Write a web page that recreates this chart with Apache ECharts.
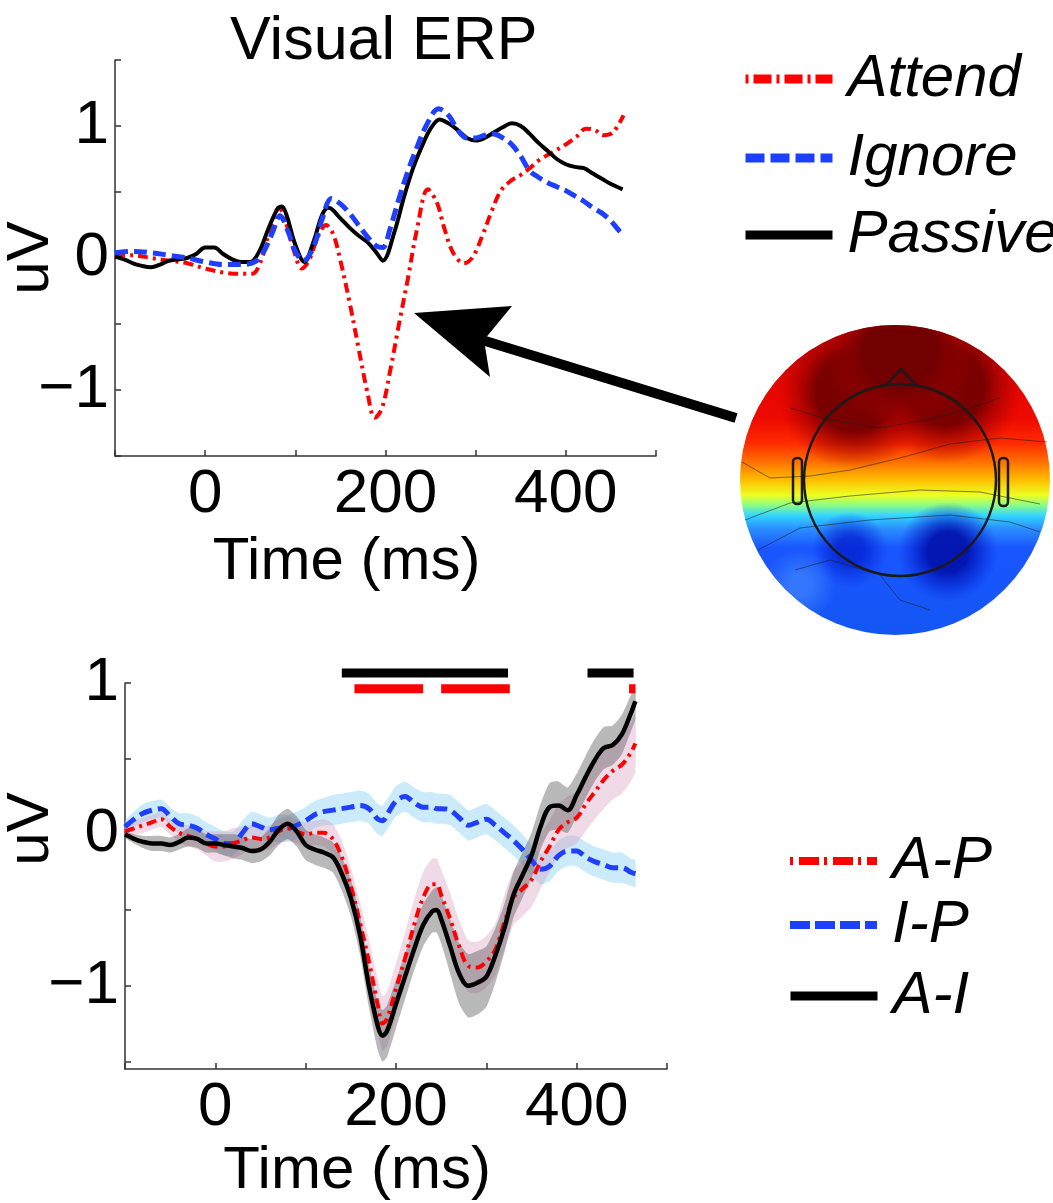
<!DOCTYPE html>
<html>
<head>
<meta charset="utf-8">
<title>Visual ERP</title>
<script src="https://cdn.jsdelivr.net/npm/echarts@6/dist/echarts.min.js"></script>
<style>
  html, body { margin: 0; padding: 0; background: #fff; }
  #chart { width: 1053px; height: 1203px; }
</style>
</head>
<body>
<div id="chart"></div>
<script>
// ---- top panel: grand average ERPs (uV), time in ms ----
var tAttend = [-100,-80,-60,-40,-20,0,20,40,52,62,72,82,90,100,107,115,125,134,142,150,160,170,180,188,196,205,215,225,235,247,257,265,275,287,297,308,318,328,340,350,360,370,385,400,412,422,432,442,452,464];
var vAttend = [0.02,0.02,0.00,-0.02,-0.04,-0.08,-0.11,-0.12,-0.12,-0.02,0.22,0.38,0.26,0.02,-0.08,-0.02,0.16,0.25,0.18,-0.02,-0.33,-0.68,-1.02,-1.21,-1.14,-0.86,-0.50,-0.15,0.22,0.52,0.42,0.23,0.04,-0.04,0.01,0.18,0.36,0.51,0.59,0.63,0.68,0.74,0.80,0.86,0.92,0.98,0.97,0.93,0.95,1.08];

var tIgnore = [-100,-80,-60,-40,-20,0,20,40,55,65,75,83,92,100,109,120,130,140,150,160,170,180,190,197,205,215,225,235,245,259,270,280,290,300,310,320,330,340,350,360,370,380,390,400,410,420,430,440,450,460,465];
var vIgnore = [0.04,0.05,0.04,0.02,0.00,-0.03,-0.05,-0.05,-0.03,0.05,0.20,0.32,0.20,0.05,-0.02,0.08,0.30,0.45,0.41,0.34,0.25,0.16,0.09,0.08,0.22,0.45,0.66,0.84,1.00,1.13,1.08,0.97,0.91,0.91,0.93,0.94,0.91,0.86,0.77,0.66,0.61,0.57,0.54,0.51,0.47,0.43,0.38,0.34,0.28,0.20,0.17];

var tPassive = [-100,-90,-80,-70,-60,-50,-40,-30,-20,-10,0,10,20,30,40,50,60,70,80,85,90,100,110,120,130,137,150,160,170,180,190,197,210,220,230,240,250,260,270,280,290,300,310,320,330,340,350,360,370,380,390,400,410,420,430,440,450,463];
var vPassive = [0.01,-0.01,-0.04,-0.06,-0.07,-0.05,-0.02,-0.01,0.00,0.03,0.08,0.08,0.03,-0.01,-0.03,-0.03,0.05,0.22,0.37,0.39,0.33,0.10,-0.03,0.12,0.33,0.38,0.30,0.23,0.17,0.12,0.04,-0.02,0.20,0.45,0.67,0.84,0.98,1.05,1.02,0.97,0.91,0.89,0.91,0.95,0.99,1.02,1.00,0.94,0.87,0.81,0.75,0.71,0.69,0.68,0.64,0.60,0.56,0.52];

// ---- bottom panel: difference waves with standard error ----
var tDiff = [-100,-90,-80,-70,-60,-50,-40,-30,-20,-10,0,10,20,30,40,50,60,70,80,90,100,110,120,130,140,150,160,170,180,185,190,200,210,220,230,240,245,250,260,270,280,290,300,310,320,330,340,350,360,370,380,390,400,410,420,430,440,450,460,465];
var vAP = [0.02,0.04,0.06,0.08,0.10,0.05,0.01,-0.01,-0.03,-0.06,-0.08,-0.08,-0.06,-0.04,-0.02,-0.03,-0.02,0.02,0.04,0.02,0.00,0.01,0.01,-0.03,-0.15,-0.34,-0.58,-0.84,-1.13,-1.25,-1.22,-1.02,-0.82,-0.60,-0.42,-0.33,-0.33,-0.40,-0.56,-0.74,-0.87,-0.88,-0.84,-0.76,-0.58,-0.42,-0.36,-0.30,-0.18,-0.08,0.03,0.08,0.11,0.20,0.28,0.36,0.42,0.46,0.54,0.60];
var vIP = [0.05,0.10,0.14,0.16,0.17,0.12,0.07,0.06,0.04,0.00,-0.03,-0.06,-0.06,0.01,0.07,0.05,0.03,0.04,0.04,0.06,0.09,0.13,0.15,0.16,0.17,0.18,0.19,0.17,0.10,0.09,0.13,0.22,0.25,0.21,0.18,0.18,0.17,0.17,0.16,0.11,0.06,0.08,0.10,0.06,0.01,-0.04,-0.10,-0.17,-0.23,-0.21,-0.14,-0.11,-0.11,-0.15,-0.18,-0.20,-0.22,-0.22,-0.25,-0.26];
var vAI = [0.00,-0.03,-0.05,-0.06,-0.06,-0.07,-0.05,-0.02,-0.03,-0.06,-0.06,-0.07,-0.08,-0.09,-0.11,-0.10,-0.05,0.03,0.07,0.02,-0.07,-0.10,-0.12,-0.15,-0.26,-0.42,-0.66,-1.00,-1.27,-1.33,-1.30,-1.12,-0.94,-0.76,-0.60,-0.51,-0.50,-0.56,-0.74,-0.92,-1.00,-0.98,-0.94,-0.80,-0.62,-0.40,-0.27,-0.14,0.05,0.18,0.19,0.16,0.26,0.38,0.49,0.57,0.59,0.66,0.80,0.88];
var seAP = [0.03,0.05,0.05,0.05,0.05,0.05,0.06,0.07,0.07,0.08,0.10,0.10,0.10,0.09,0.08,0.08,0.08,0.08,0.08,0.08,0.08,0.08,0.09,0.10,0.11,0.12,0.14,0.15,0.17,0.18,0.18,0.17,0.17,0.17,0.17,0.17,0.17,0.17,0.17,0.17,0.17,0.17,0.17,0.17,0.18,0.18,0.18,0.18,0.18,0.17,0.17,0.17,0.17,0.18,0.18,0.19,0.19,0.19,0.19,0.19];
var seIP = [0.04,0.05,0.06,0.06,0.06,0.06,0.07,0.08,0.08,0.08,0.08,0.08,0.08,0.08,0.08,0.08,0.08,0.09,0.09,0.09,0.09,0.09,0.09,0.10,0.10,0.10,0.10,0.10,0.10,0.10,0.10,0.10,0.10,0.10,0.10,0.10,0.10,0.10,0.10,0.10,0.10,0.10,0.10,0.10,0.10,0.10,0.10,0.10,0.10,0.10,0.10,0.10,0.10,0.10,0.10,0.10,0.10,0.10,0.09,0.09];
var seAI = [0.02,0.03,0.04,0.05,0.05,0.05,0.05,0.06,0.06,0.06,0.06,0.07,0.08,0.08,0.08,0.08,0.09,0.10,0.10,0.10,0.10,0.10,0.10,0.10,0.11,0.12,0.13,0.14,0.16,0.17,0.17,0.16,0.15,0.14,0.14,0.14,0.15,0.16,0.18,0.20,0.21,0.21,0.20,0.18,0.16,0.15,0.15,0.15,0.15,0.16,0.16,0.15,0.14,0.14,0.14,0.14,0.13,0.13,0.12,0.12];

// significance bars above the bottom panel: [start, end] in ms
var sigAI = [[140, 324], [412, 463]];
var sigAP = [[154, 230], [250, 326], [458, 465]];
var sigAILevel = 1.066;
var sigAPLevel = 0.962;

var FONT = '"Liberation Sans", Arial, Helvetica, sans-serif';
var RED = '#ff0000', BLUE = '#1f3fff', BLACK = '#000000';

function pairs(t, v) {
    return t.map(function (x, i) { return [x, v[i]]; });
}
function minusSign(v) {
    return String(v).replace('-', '\u2212');
}

function erpLine(name, t, v, color, dash, width, idx) {
    return {
        name: name, type: 'line', xAxisIndex: idx, yAxisIndex: idx,
        data: pairs(t, v), smooth: 0.35, symbol: 'none', silent: true,
        lineStyle: { color: color, type: dash, width: width },
        itemStyle: { color: color }
    };
}

// shaded standard error band drawn as one polygon through the axes
function seBand(t, mean, se, fill) {
    return {
        type: 'custom', xAxisIndex: 1, yAxisIndex: 1, silent: true,
        data: t.map(function (x, i) { return [x, mean[i] - se[i], mean[i] + se[i]]; }),
        encode: { x: 0, y: [1, 2] },
        renderItem: function (params, api) {
            if (params.dataIndex !== 0) return null;
            var up = [], lo = [];
            for (var i = 0; i < t.length; i++) {
                up.push(api.coord([t[i], mean[i] + se[i]]));
                lo.unshift(api.coord([t[i], mean[i] - se[i]]));
            }
            return { type: 'polygon', shape: { points: up.concat(lo), smooth: 0.2 }, style: { fill: fill } };
        }
    };
}

function sigBars(segs, level, color) {
    return segs.map(function (s) {
        return {
            type: 'line', xAxisIndex: 1, yAxisIndex: 1, silent: true, clip: false,
            symbol: 'none', data: [[s[0], level], [s[1], level]],
            lineStyle: { color: color, width: 9, cap: 'butt' }, z: 5
        };
    });
}

function legendItem(name, left, top, dash, width) {
    return {
        data: [name], left: left, top: top, orient: 'vertical',
        itemWidth: 87, itemHeight: 12, selectedMode: false,
        itemStyle: { opacity: 0 },
        lineStyle: { type: dash, width: width },
        textStyle: { fontSize: 60, fontStyle: 'italic', fontFamily: FONT, color: '#000', padding: [0, 0, 0, 10] }
    };
}

var axisLineStyle = { color: '#333', width: 1.5 };
var labelStyle = { fontSize: 62, fontFamily: FONT, color: '#000' };

function xAxisFor(idx, gap, shift) {
    return {
        gridIndex: idx, type: 'value', min: -100, max: 500, interval: 100,
        axisLine: { show: true, onZero: false, lineStyle: axisLineStyle },
        axisTick: { show: true, inside: true, length: 6, lineStyle: axisLineStyle },
        splitLine: { show: false },
        axisLabel: Object.assign({ margin: 8, formatter: function (v) {
            return (v === 0 || v === 200 || v === 400) ? String(v) : '';
        } }, labelStyle),
        name: 'Time (ms)', nameLocation: 'middle', nameGap: gap, nameMoveOverlap: false,
        nameTextStyle: { fontSize: 60, fontFamily: FONT, color: '#000', padding: [0, shift, 0, 0] }
    };
}

function yName(gap, pad) {
    return {
        name: 'uV', nameLocation: 'middle', nameRotate: 90, nameGap: gap, nameMoveOverlap: false,
        nameTextStyle: { fontSize: 60, fontFamily: FONT, color: '#000', padding: [0, 0, 0, pad] }
    };
}

var chart = echarts.init(document.getElementById('chart'));

var series = [
    erpLine('Attend', tAttend, vAttend, RED, [10, 5, 3, 5], 4, 0),
    erpLine('Passive', tPassive, vPassive, BLACK, 'solid', 4, 0),
    erpLine('Ignore', tIgnore, vIgnore, BLUE, [13, 6], 5, 0),
    seBand(tDiff, vIP, seIP, 'rgba(140,210,245,0.45)'),
    seBand(tDiff, vAP, seAP, 'rgba(215,150,185,0.35)'),
    seBand(tDiff, vAI, seAI, 'rgba(70,70,70,0.38)'),
    erpLine('I-P', tDiff, vIP, BLUE, [13, 6], 5, 1),
    erpLine('A-P', tDiff, vAP, RED, [10, 5, 3, 5], 4, 1),
    erpLine('A-I', tDiff, vAI, BLACK, 'solid', 4.5, 1)
].concat(sigBars(sigAI, sigAILevel, BLACK), sigBars(sigAP, sigAPLevel, RED));

// topographic map and arrow (illustration, not data)
var topo = { cx: 895, cy: 480, r: 155 };
function topoLayer(fill) {
    return { type: 'circle', shape: topo, style: { fill: fill }, silent: true };
}
function blob(x, y, r, inner, outer, stop) {
    return topoLayer({ type: 'radial', x: x, y: y, r: r, global: true,
        colorStops: [{ offset: 0, color: inner }, { offset: stop, color: inner }, { offset: 1, color: outer }] });
}
var contour = { stroke: 'rgba(30,30,30,0.55)', lineWidth: 1, fill: null };

var graphics = [
    topoLayer({ type: 'linear', x: 0, y: 326, x2: 0, y2: 634, global: true, colorStops: [
        { offset: 0, color: '#d80000' }, { offset: 0.3, color: '#ee0a00' },
        { offset: 0.38, color: '#ff2a00' }, { offset: 0.44, color: '#ff6e00' },
        { offset: 0.5, color: '#ffbe00' }, { offset: 0.55, color: '#ecff22' },
        { offset: 0.58, color: '#90ff80' }, { offset: 0.615, color: '#34d6ff' },
        { offset: 0.66, color: '#2a8cff' }, { offset: 0.72, color: '#1a56ff' },
        { offset: 1, color: '#1456f4' }] }),
    blob(855, 392, 78, 'rgba(122,0,0,1)', 'rgba(180,0,0,0)', 0.5),
    blob(945, 386, 78, 'rgba(122,0,0,1)', 'rgba(180,0,0,0)', 0.5),
    blob(900, 352, 75, 'rgba(115,0,0,1)', 'rgba(170,0,0,0)', 0.5),
    blob(948, 552, 50, 'rgba(0,15,170,0.9)', 'rgba(0,30,220,0)', 0.4),
    blob(850, 550, 38, 'rgba(0,25,200,0.7)', 'rgba(0,30,220,0)', 0.35),
    blob(800, 585, 36, 'rgba(80,150,255,0.5)', 'rgba(80,150,255,0)', 0.3),
    { type: 'polyline', silent: true, style: contour, shape: { points: [[742,462],[770,478],[810,476],[850,470],[900,458],[950,444],[1000,438],[1047,442]] } },
    { type: 'polyline', silent: true, style: contour, shape: { points: [[745,520],[790,503],[850,496],[920,490],[980,492],[1040,504]] } },
    { type: 'polyline', silent: true, style: contour, shape: { points: [[758,550],[800,528],[870,520],[950,515],[1010,522],[1040,532]] } },
    { type: 'polyline', silent: true, style: contour, shape: { points: [[790,408],[830,420],[880,428],[925,420],[965,410],[1000,398]] } },
    { type: 'polyline', silent: true, style: contour, shape: { points: [[795,570],[830,560],[880,575],[900,600],[930,610]] } },
    { type: 'circle', silent: true, shape: { cx: 900, cy: 480, r: 96 }, style: { stroke: '#1a1a1a', lineWidth: 2.5, fill: null } },
    { type: 'polyline', silent: true, shape: { points: [[886, 385], [901, 369], [916, 385]] }, style: { stroke: '#1a1a1a', lineWidth: 2.5, fill: null } },
    { type: 'rect', silent: true, shape: { x: 793, y: 458, width: 9, height: 46, r: 4 }, style: { stroke: '#1a1a1a', lineWidth: 2.5, fill: null } },
    { type: 'rect', silent: true, shape: { x: 999, y: 458, width: 9, height: 48, r: 4 }, style: { stroke: '#1a1a1a', lineWidth: 2.5, fill: null } },
    { type: 'line', silent: true, shape: { x1: 736, y1: 418, x2: 482, y2: 340 }, style: { stroke: '#000', lineWidth: 10 } },
    { type: 'polygon', silent: true, shape: { points: [[414, 313], [512, 306], [484, 340], [490, 377]] }, style: { fill: '#000' } }
];

chart.setOption({
    animation: false,
    backgroundColor: '#fff',
    title: {
        text: 'Visual ERP', left: 225, top: 7,
        textStyle: { fontSize: 61, fontWeight: 'normal', fontFamily: FONT, color: '#000' }
    },
    legend: [
        legendItem('Attend', 736, 44, [3, 5, 18, 5], 9),
        legendItem('Ignore', 736, 123, [19, 6], 9),
        legendItem('Passive', 736, 200, 'solid', 9),
        legendItem('A-P', 781, 826, [3, 6, 20, 5], 8),
        legendItem('I-P', 781, 890, [20, 5], 8),
        legendItem('A-I', 781, 961, 'solid', 9)
    ],
    grid: [
        { left: 115, top: 60, width: 541, height: 396, outerBoundsMode: 'none' },
        { left: 125, top: 683, width: 542, height: 386, outerBoundsMode: 'none' }
    ],
    xAxis: [xAxisFor(0, 76, 78), xAxisFor(1, 72, 78)],
    yAxis: [
        Object.assign({
            gridIndex: 0, type: 'value', min: -1.5, max: 1.5, interval: 0.5,
            axisLine: { show: true, onZero: false, lineStyle: axisLineStyle },
            axisTick: { show: true, inside: true, length: 6, lineStyle: axisLineStyle },
            splitLine: { show: false },
            axisLabel: Object.assign({ margin: 6, formatter: function (v) {
                return (v === 1 || v === 0 || v === -1) ? minusSign(v) : '';
            } }, labelStyle)
        }, yName(54, 0)),
        Object.assign({
            gridIndex: 1, type: 'value', min: -1.55, max: 1,
            axisLine: { show: true, onZero: false, lineStyle: axisLineStyle },
            axisTick: { show: true, inside: true, length: 6, lineStyle: axisLineStyle,
                customValues: [-1.5, -1, -0.5, 0, 0.5, 1] },
            splitLine: { show: false },
            axisLabel: Object.assign({ margin: 6, customValues: [-1, 0, 1], formatter: minusSign }, labelStyle)
        }, yName(64, 94))
    ],
    graphic: { elements: graphics },
    series: series
});
</script>
</body>
</html>
